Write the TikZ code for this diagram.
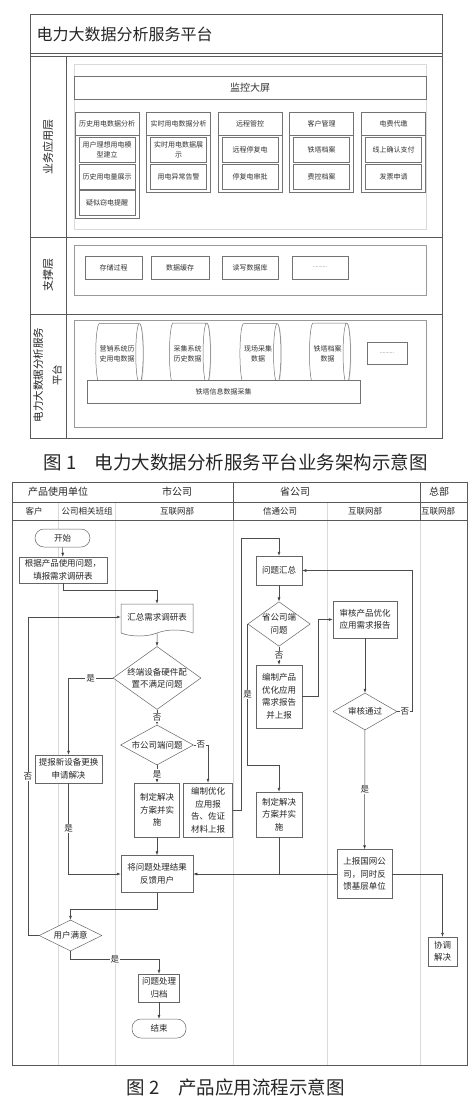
\documentclass[tikz,border=0pt]{standalone}
\usepackage{fontspec}
\setmainfont{Noto Sans CJK SC}
\usetikzlibrary{shapes.geometric,shapes.symbols,arrows.meta,shadows}
\tikzset{
	frame/.style={draw=black!65, line width=0.8pt},
	lane/.style={draw=black!15, line width=0.5pt},
	shade/.style={drop shadow={shadow xshift=0.8pt, shadow yshift=-0.8pt, fill=black!30, opacity=0.6}},
	panel/.style={draw=black!40, fill=white, line width=0.6pt},
	box/.style={draw=black!55, fill=white, line width=0.5pt, inner sep=1pt, align=center, text=black!80, font=\fontsize{7}{10}\selectfont},
	col/.style={draw=black!55, fill=white, line width=0.5pt, inner sep=0pt},
	db/.style={cylinder, draw=black!55, fill=white, line width=0.5pt, shape aspect=0.4, inner sep=1pt, align=center, text=black!80, font=\fontsize{7}{10}\selectfont},
	layer/.style={rotate=90, align=center, font=\fontsize{11}{19}\selectfont, text=black!85},
	figcap/.style={inner sep=0pt, font=\fontsize{18.5}{20}\selectfont, text=black!85},
	head/.style={font=\fontsize{10}{12}\selectfont, text=black!85},
	sub/.style={font=\fontsize{8.5}{10}\selectfont, text=black!85},
	proc/.style={draw=black!60, line width=0.5pt, fill=white, inner sep=1pt, align=center, font=\fontsize{8.5}{12.5}\selectfont, text=black!85},
	term/.style={proc, rounded corners=9pt},
	dec/.style={proc, diamond, inner sep=0pt},
	doc/.style={proc, tape, tape bend top=none, tape bend height=6pt},
	lbl/.style={fill=white, inner sep=1pt, font=\fontsize{8.5}{10}\selectfont, text=black!85},
	line/.style={draw=black!70, line width=0.5pt},
}
\begin{document}
\begin{tikzpicture}[x=1pt, y=-1pt, >={Latex[length=4pt,width=3pt]}]
	\useasboundingbox (0,0) rectangle (475,1104);
	\fill[white] (0,0) rectangle (475,1104);

	\draw[frame] (30,14) rectangle (442,438);
	\draw[frame] (30,53) -- (442,53);
	\draw[frame] (30,56) -- (442,56);
	\draw[frame] (66,56) -- (66,438);
	\draw[frame] (30,237) -- (442,237);
	\draw[frame] (30,314) -- (442,314);
	\node[anchor=west, font=\fontsize{16}{18}\selectfont, text=black!85] (a0) at (33,34) {电力大数据分析服务平台};

	\node[layer] (l1) at (48,147) {业务应用层};
	\node[layer] (l2) at (48,275) {支撑层};
	\node[layer, font=\fontsize{10.5}{19}\selectfont] (l3) at (47.5,375) {电力大数据分析服务\\平台};

	\draw[panel, draw=black!15] (74,64) rectangle (426,229);
	\draw[panel, shade] (74,245) rectangle (426,295);
	\draw[panel, shade] (74,320) rectangle (426,427);

	\node[box, shade, font=\fontsize{10}{12}\selectfont, minimum width=352, minimum height=23] (a1) at (250,87.5) {监控大屏};

	\node[col, shade, minimum width=64, minimum height=106] (c1) at (107,165) {};
	\node[box, minimum width=64, minimum height=23] (h1) at (107,123.5) {历史用电数据分析};
	\node[box, shade, minimum width=56, minimum height=25] (b11) at (107,149.5) {用户理想用电模\\型建立};
	\node[box, shade, minimum width=56, minimum height=25] (b12) at (107,176.5) {历史用电量展示};
	\node[box, shade, minimum width=56, minimum height=25] (b13) at (107,202.5) {疑似窃电提醒};

	\node[col, shade, minimum width=64, minimum height=80] (c2) at (178.5,152) {};
	\node[box, minimum width=64, minimum height=23] (h2) at (178.5,123.5) {实时用电数据分析};
	\node[box, shade, minimum width=56, minimum height=25] (b21) at (178.5,149.5) {实时用电数据展\\示};
	\node[box, shade, minimum width=56, minimum height=25] (b22) at (178.5,176.5) {用电异常告警};

	\node[col, shade, minimum width=64, minimum height=80] (c3) at (250,152) {};
	\node[box, minimum width=64, minimum height=23] (h3) at (250,123.5) {远程管控};
	\node[box, shade, minimum width=56, minimum height=25] (b31) at (250,149.5) {远程停复电};
	\node[box, shade, minimum width=56, minimum height=25] (b32) at (250,176.5) {停复电审批};

	\node[col, shade, minimum width=64, minimum height=80] (c4) at (321.5,152) {};
	\node[box, minimum width=64, minimum height=23] (h4) at (321.5,123.5) {客户管理};
	\node[box, shade, minimum width=56, minimum height=25] (b41) at (321.5,149.5) {铁塔档案};
	\node[box, shade, minimum width=56, minimum height=25] (b42) at (321.5,176.5) {费控档案};

	\node[col, shade, minimum width=64, minimum height=80] (c5) at (393.5,152) {};
	\node[box, minimum width=64, minimum height=23] (h5) at (393.5,123.5) {电费代缴};
	\node[box, shade, minimum width=56, minimum height=25] (b51) at (393.5,149.5) {线上确认支付};
	\node[box, shade, minimum width=56, minimum height=25] (b52) at (393.5,176.5) {发票申请};

	\node[box, shade, minimum width=57, minimum height=23] (s1) at (113.5,267.5) {存储过程};
	\node[box, shade, minimum width=58, minimum height=23] (s2) at (180,267.5) {数据缓存};
	\node[box, shade, minimum width=56, minimum height=23] (s3) at (250,267.5) {读写数据库};
	\node[box, shade, minimum width=56, minimum height=23, font=\fontsize{5}{6}\selectfont] (s4) at (320,267.5) {..........};

	\node[db, shade, minimum width=60, minimum height=41] (d1) at (117,353.5) {营销系统历\\史用电数据};
	\node[db, shade, minimum width=61, minimum height=41] (d2) at (187.5,353.5) {采集系统\\历史数据};
	\node[db, shade, minimum width=60, minimum height=41] (d3) at (258,353.5) {现场采集\\数据};
	\node[db, shade, minimum width=61, minimum height=41] (d4) at (327.5,353.5) {铁塔档案\\数据};
	\node[box, shade, minimum width=40, minimum height=22, font=\fontsize{5}{6}\selectfont] (d5) at (387,353) {..........};
	\node[box, shade, minimum width=273, minimum height=23] (d6) at (223.5,391.5) {铁塔信息数据采集};

	\node[figcap, anchor=east] (p1) at (428,462) {图 1\hspace{1em}电力大数据分析服务平台业务架构示意图};

	\draw[lane] (58,502) -- (58,1065);
	\draw[lane] (115,502) -- (115,1065);
	\draw[lane] (233,520) -- (233,1065);
	\draw[lane] (327,502) -- (327,1065);
	\draw[lane] (420,520) -- (420,1065);
	\draw[frame, line width=0.6pt] (12,482) rectangle (467,1065);
	\draw[frame, line width=0.6pt] (12,502) -- (467,502);
	\draw[frame, line width=0.6pt] (12,520) -- (467,520);
	\draw[frame, line width=0.6pt] (233,482) -- (233,520);
	\draw[frame, line width=0.6pt] (420,482) -- (420,520);

	\node[head] (g1) at (58,492) {产品使用单位};
	\node[head] (g2) at (177,492) {市公司};
	\node[head] (g3) at (295,492) {省公司};
	\node[head] (g4) at (439,492) {总部};
	\node[sub] (k1) at (34,511) {客户};
	\node[sub] (k2) at (87,511) {公司相关班组};
	\node[sub] (k3) at (177,511) {互联网部};
	\node[sub] (k4) at (280,511) {信通公司};
	\node[sub] (k5) at (365,511) {互联网部};
	\node[sub] (k6) at (438,511) {互联网部};

	\node[term, minimum width=55, minimum height=18] (1) at (62.5,538) {开始};
	\node[proc, minimum width=88, minimum height=26] (2) at (63,570) {根据产品使用问题，\\填报需求调研表};
	\node[doc, minimum width=72, minimum height=32] (3) at (157,617) {汇总需求调研表};
	\node[dec, shape aspect=1.4, minimum width=87, minimum height=63] (4) at (157,678) {终端设备硬件配\\置不满足问题};
	\node[proc, minimum width=67, minimum height=28] (5) at (68.5,769) {提报新设备更换\\申请解决};
	\node[dec, shape aspect=2, minimum width=73, minimum height=40] (6) at (157,745) {市公司端问题};
	\node[proc, minimum width=45, minimum height=54] (7) at (157,810) {制定解决\\方案并实\\施};
	\node[proc, minimum width=49, minimum height=54] (8) at (208,810) {编制优化\\应用报\\告、佐证\\材料上报};
	\node[proc, minimum width=72, minimum height=37] (9) at (157,874) {将问题处理结果\\反馈用户};
	\node[dec, shape aspect=2, minimum width=63, minimum height=31] (10) at (70.5,935.5) {用户满意};
	\node[proc, minimum width=41, minimum height=28] (11) at (159,988) {问题处理\\归档};
	\node[term, minimum width=54, minimum height=19] (12) at (159,1028.5) {结束};
	\node[proc, minimum width=46, minimum height=29] (13) at (279,570.5) {问题汇总};
	\node[dec, shape aspect=1.4, minimum width=61, minimum height=44] (14) at (279,624) {省公司端\\问题};
	\node[proc, minimum width=46, minimum height=63] (15) at (279,696.5) {编制产品\\优化应用\\需求报告\\并上报};
	\node[proc, minimum width=64, minimum height=37] (16) at (365,619.5) {审核产品优化\\应用需求报告};
	\node[dec, shape aspect=1.6, minimum width=64, minimum height=37] (17) at (365,711.5) {审核通过};
	\node[proc, minimum width=46, minimum height=45] (18) at (279,814.5) {制定解决\\方案并实\\施};
	\node[proc, minimum width=55, minimum height=49] (19) at (364.5,874) {上报国网公\\司，同时反\\馈基层单位};
	\node[proc, minimum width=29, minimum height=29] (20) at (442.5,951.5) {协调\\解决};

	\path [->, line] (1) edge node {} (2);
	\draw [->, line] (2.south) -- ++(0,7) -| (3.north);
	\path [->, line] (3) edge node {} (4);
	\draw [->, line] (4.west) -| node[lbl, pos=0.25] {是} (5.north);
	\path [->, line] (4) edge node[lbl] {否} (6);
	\draw [->, line] (6.east) -| node[lbl, pos=0.25] {否} (8.north);
	\path [->, line] (6) edge node[lbl] {是} (7);
	\path [->, line] (7) edge node {} (9);
	\draw [->, line] (8.east) -- ++(8,0) |- ([yshift=18pt]13.north) -- (13.north);
	\path [->, line] (13) edge node {} (14);
	\path [->, line] (14) edge node[lbl] {否} (15);
	\draw [->, line] (15.east) -- ++(16,0) |- (16.west);
	\path [->, line] (16) edge node {} (17);
	\draw [->, line] (17.east) -- node[lbl] {否} ++(15,0) |- (13.east);
	\path [->, line] (17) edge node[lbl] {是} (19);
	\draw [->, line] (19.east) -| (20.north);
	\path [->, line] (19) edge node {} (9);
	\draw [->, line] (14.west) |- node[lbl, pos=0.25] {是} ([yshift=27pt]18.north) -- (18.north);
	\draw [line] (18.south) -- (18.south |- 9.east);
	\draw [->, line] (5.south) |- node[lbl, pos=0.25] {是} (9.west);
	\draw [->, line] (9.south) -- ++(0,16) -| (10.north);
	\draw [->, line] (10.west) -- ++(-11,0) |- node[lbl, pos=0.25] {否} (3.west);
	\draw [->, line] (10.south) -- ++(0,8) -| node[lbl, pos=0.25] {是} (11.north);
	\path [->, line] (11) edge node {} (12);

	\node[figcap, anchor=east] (p2) at (345,1087) {图 2\hspace{1em}产品应用流程示意图};
\end{tikzpicture}
\end{document}
